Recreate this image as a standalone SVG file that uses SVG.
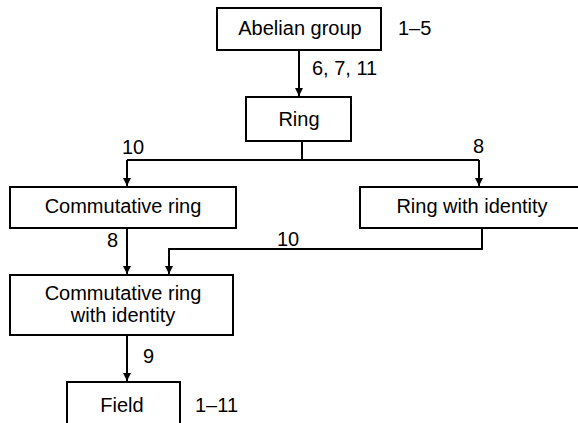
<svg xmlns="http://www.w3.org/2000/svg" width="578" height="423" viewBox="0 0 578 423">
<defs>
<marker id="ah" markerUnits="userSpaceOnUse" markerWidth="8" markerHeight="10" refX="8" refY="4" orient="auto">
<path d="M0,0 L8,4 L0,8 Z" fill="#000"/>
</marker>
<style>
text{font-family:"Liberation Sans",Arial,sans-serif;font-size:20px;fill:#000}
.m{text-anchor:middle}
rect{fill:#fff;stroke:#000;stroke-width:2}
.c{fill:none;stroke:#000;stroke-width:2}
</style>
</defs>
<rect width="578" height="423" fill="#fff" style="stroke:none"/>
<g id="connectors">
<path class="c" d="M299,50 V96" marker-end="url(#ah)"/>
<path class="c" d="M302,141 V160"/>
<path class="c" d="M127,160 H479"/>
<path class="c" d="M127,160 V186" marker-end="url(#ah)"/>
<path class="c" d="M479,160 V186" marker-end="url(#ah)"/>
<path class="c" d="M127,228 V274" marker-end="url(#ah)"/>
<path class="c" d="M482,228 V249 H169 V274" marker-end="url(#ah)"/>
<path class="c" d="M127,335 V381" marker-end="url(#ah)"/>
<text x="312" y="75">6, 7, 11</text>
<text x="122" y="154">10</text>
<text x="473" y="153">8</text>
<text x="107" y="247">8</text>
<text x="277" y="246">10</text>
<text x="143" y="363">9</text>
</g>
<g id="abelian">
<rect x="217" y="8" width="164" height="42"/>
<text class="m" x="300" y="35">Abelian group</text>
<text x="398" y="35">1–5</text>
</g>
<g id="ring">
<rect x="246" y="97" width="105" height="44"/>
<text class="m" x="299" y="126">Ring</text>
</g>
<g id="commring">
<rect x="10" y="187" width="226" height="41"/>
<text class="m" x="123" y="213">Commutative ring</text>
</g>
<g id="ringid">
<rect x="360" y="187" width="230" height="41"/>
<text class="m" x="472" y="213">Ring with identity</text>
</g>
<g id="commringid">
<rect x="10" y="275" width="223" height="60"/>
<text class="m" x="123" y="300">Commutative ring</text>
<text class="m" x="123" y="322">with identity</text>
</g>
<g id="field">
<rect x="67" y="382" width="113" height="50"/>
<text class="m" x="122" y="412">Field</text>
<text x="195" y="412">1–11</text>
</g>
</svg>
